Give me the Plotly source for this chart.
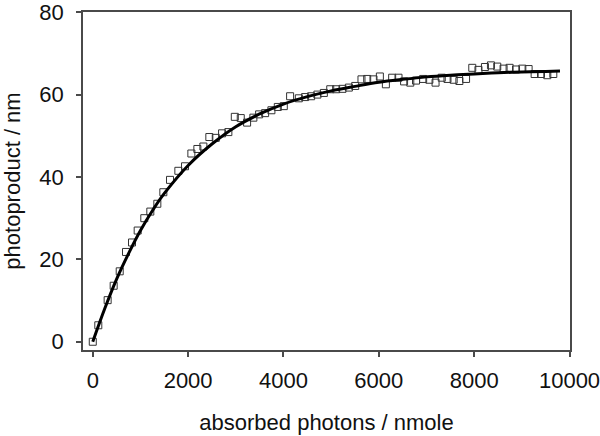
import plotly.graph_objects as go

# Measured points (absorbed photons / nmole, photoproduct / nm)
photons = [0, 116, 312, 438, 565, 697, 823, 942, 1081, 1207, 1354, 1480, 1620,
           1795, 1935, 2068, 2194, 2320, 2445, 2580, 2712, 2844, 2979, 3104,
           3237, 3369, 3489, 3615, 3747, 3881, 4007, 4139, 4322, 4454, 4580,
           4712, 4847, 4981, 5105, 5238, 5372, 5505, 5636, 5756, 5888, 6022,
           6148, 6280, 6413, 6530, 6660, 6780, 6930, 7060, 7190, 7320, 7440,
           7570, 7690, 7830, 7960, 8090, 8226, 8352, 8484, 8617, 8743, 8878,
           9010, 9142, 9268, 9402, 9534, 9660]
product = [0.0, 4.0, 10.1, 13.6, 17.1, 21.8, 24.1, 27.0, 30.0, 31.6, 33.5, 36.3,
           39.3, 41.5, 42.6, 45.7, 46.8, 47.4, 49.7, 49.5, 50.6, 50.9, 54.6,
           54.3, 53.2, 54.4, 55.2, 55.5, 56.2, 57.0, 57.2, 59.6, 59.1, 59.4,
           59.6, 60.0, 60.4, 61.3, 61.3, 61.4, 61.7, 62.1, 63.7, 63.8, 63.7,
           64.4, 62.5, 64.1, 64.1, 63.2, 62.9, 63.4, 63.8, 63.6, 62.9, 64.1,
           63.8, 63.6, 63.3, 63.8, 66.5, 66.0, 66.7, 67.1, 66.8, 66.3, 66.5,
           66.1, 66.3, 66.2, 65.0, 65.0, 64.7, 65.0]

# Fitted curve
fit_x = [0, 250, 500, 750, 1000, 1250, 1500, 2000, 2500, 3000, 3500, 4000,
         4500, 5000, 5500, 6000, 6500, 7000, 7500, 8000, 8500, 9000, 9500, 9800]
fit_y = [0.0, 8.0, 15.2, 21.4, 27.0, 31.8, 36.0, 42.8, 48.0, 52.2, 55.3, 57.7,
         59.5, 60.9, 62.0, 63.0, 63.7, 64.3, 64.7, 65.0, 65.3, 65.5, 65.6, 65.7]

x_ticks = [0, 2000, 4000, 6000, 8000, 10000]
y_ticks = [0, 20, 40, 60, 80]

_AXIS = "#4a4a4a"
_FONT = dict(family="Liberation Sans, Arial, sans-serif", size=22, color="#111")

fig = go.Figure()
fig.add_scatter(
    x=photons, y=product, mode="markers", name="data",
    marker=dict(symbol="square-open", size=7, color="#333",
                line=dict(width=1, color="#333")),
)
fig.add_scatter(
    x=fit_x, y=fit_y, mode="lines", name="fit",
    line=dict(color="black", width=3, shape="spline"),
)

axis_common = dict(
    showgrid=False, zeroline=False, showline=True, mirror=True,
    linecolor=_AXIS, linewidth=1.5, ticks="outside", ticklen=5,
    tickcolor=_AXIS, tickwidth=1.5, tickfont=_FONT, ticklabeloverflow="allow",
)
fig.update_xaxes(
    range=[-205, 10010], tickvals=x_ticks, tickformat="d", ticklabelstandoff=5,
    title=dict(text="absorbed photons / nmole", font=_FONT, standoff=22),
    **axis_common,
)
fig.update_yaxes(
    range=[-2, 80.05], tickvals=y_ticks, ticklabelstandoff=8,
    title=dict(text="photoproduct / nm", font=_FONT, standoff=14),
    **axis_common,
)
fig.update_layout(
    width=600, height=436, showlegend=False,
    plot_bgcolor="white", paper_bgcolor="white",
    margin=dict(l=83, r=30, t=12, b=86, autoexpand=False),
    font=_FONT,
)
# drop the default page margin so the figure sits at the window's corner
fig.write_html("out.html", config={"displayModeBar": False},
               post_script="document.body.style.margin='0';")
